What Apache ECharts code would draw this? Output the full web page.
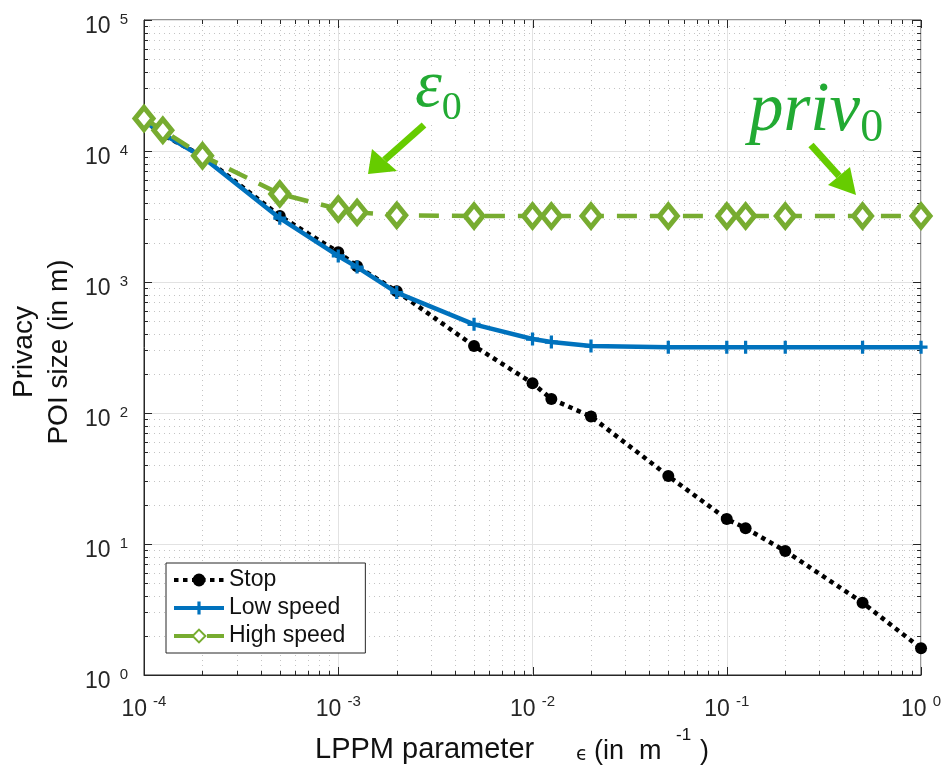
<!DOCTYPE html>
<html><head><meta charset="utf-8">
<script src="https://cdn.jsdelivr.net/npm/echarts@6/dist/echarts.min.js"></script>
<style>html,body{margin:0;padding:0;background:#fff}#c{width:944px;height:766px}</style>
</head><body><div id="c"></div>
<script>
// ---- data ----
const epsValues = [1e-4,1.25e-4,2e-4,5e-4,1e-3,1.25e-3,2e-3,5e-3,1e-2,1.25e-2,2e-2,5e-2,1e-1,1.25e-1,2e-1,5e-1,1];
const stopValues = [17200,13300,9150,3190,1690,1320,850,325,169,128,94,33,15.5,13.2,8.85,3.56,1.6];
const lowSpeedValues = [17000,13500,9000,3070,1580,1300,830,475,367,348,325,318,318,318,318,318,318];
const highSpeedValues = [17700,14400,9200,4700,3610,3400,3230,3190,3190,3190,3190,3190,3190,3190,3190,3190,3190];
const seriesNames = ['Stop','Low speed','High speed'];
const xDecades = [-4,-3,-2,-1,0];
const yDecades = [0,1,2,3,4,5];
const xTitle = 'LPPM parameter';
const xTitleUnit = ['ϵ', '(in  m', '-1', ')'];
const yTitleLines = ['Privacy','POI size (in m)'];
const annotEps = ['ε','0'];
const annotPriv = ['priv','0'];

// ---- helpers ----
function tickList(decades){
  const out=[];
  for(let i=0;i<decades.length;i++){
    out.push({v:Math.pow(10,decades[i]),major:1});
    if(i<decades.length-1) for(let k=2;k<=9;k++) out.push({v:k*Math.pow(10,decades[i]),major:0});
  }
  return out;
}
const xMin=Math.pow(10,xDecades[0]), xMax=Math.pow(10,xDecades[xDecades.length-1]);
const yMin=Math.pow(10,yDecades[0]), yMax=Math.pow(10,yDecades[yDecades.length-1]);
const INK='#262626';
function gridSeries(dim){
  const ticks=tickList(dim==='x'?xDecades:yDecades);
  return {
    type:'custom', silent:true, z:1, clip:false,
    data: ticks.map(t=> dim==='x'?[t.v,yMin,t.major]:[xMin,t.v,t.major]),
    renderItem(params,api){
      const cs=params.coordSys;
      const p=api.coord([api.value(0),api.value(1)]);
      const major=api.value(2)===1;
      const ch=[]; const L=major?8:4;
      if(dim==='x'){
        const x=Math.round(p[0])+0.5;
        if(!major) ch.push({type:'line',shape:{x1:x,y1:cs.y,x2:x,y2:cs.y+cs.height},style:{stroke:'#c4c4c4',lineWidth:1,lineDash:[1,4]}});
        ch.push({type:'line',shape:{x1:x,y1:cs.y+cs.height,x2:x,y2:cs.y+cs.height-L},style:{stroke:INK,lineWidth:1}});
        ch.push({type:'line',shape:{x1:x,y1:cs.y,x2:x,y2:cs.y+L},style:{stroke:INK,lineWidth:1}});
      } else {
        const y=Math.round(p[1])+0.5;
        if(!major) ch.push({type:'line',shape:{x1:cs.x,y1:y,x2:cs.x+cs.width,y2:y},style:{stroke:'#c4c4c4',lineWidth:1,lineDash:[1,4]}});
        ch.push({type:'line',shape:{x1:cs.x,y1:y,x2:cs.x+L,y2:y},style:{stroke:INK,lineWidth:1}});
        ch.push({type:'line',shape:{x1:cs.x+cs.width,y1:y,x2:cs.x+cs.width-L,y2:y},style:{stroke:INK,lineWidth:1}});
      }
      return {type:'group',children:ch};
    }
  };
}
function pairs(ys){return epsValues.map((x,i)=>[x,ys[i]]);}
function richFor(supPad,lh){
  return {b:{fontSize:23,color:INK,fontFamily:'Liberation Sans',verticalAlign:'bottom',lineHeight:lh},
          s:{fontSize:15,color:INK,fontFamily:'Liberation Sans',verticalAlign:'top',lineHeight:15,padding:[0,0,0,supPad]}};
}
function fmt(v){const e=Math.round(Math.log10(v));return '{b|10}{s|'+e+'}';}
const plusPath='path://M4.5,0h3v4.5h4.5v3h-4.5v4.5h-3v-4.5h-4.5v-3h4.5z';
const GREEN='#77AC30', BLUE='#0072BD', AGREEN='#66CC00', TGREEN='#22AA33';
const FONT='Liberation Sans', TXT='#111';

function arrow(tail,tip,base1,base2){
  const bc=[(base1[0]+base2[0])/2,(base1[1]+base2[1])/2];
  return [
    {type:'line',shape:{x1:tail[0],y1:tail[1],x2:bc[0],y2:bc[1]},style:{stroke:AGREEN,lineWidth:7},z:100},
    {type:'polygon',shape:{points:[tip,base1,base2]},style:{fill:AGREEN},z:100}
  ];
}
function txt(s,x,y,size,family){
  return {type:'text',x:x,y:y,z:50,style:{text:s,fontSize:size,fontFamily:family||FONT,fill:TXT,verticalAlign:'middle'}};
}

const chart=echarts.init(document.getElementById('c'));
chart.setOption({
  animation:false,
  backgroundColor:'#fff',
  grid:{left:144,top:20,right:22,bottom:91,show:true,borderColor:INK,borderWidth:1,backgroundColor:'transparent'},
  xAxis:{type:'log',logBase:10,min:xMin,max:xMax,
    axisLine:{lineStyle:{color:INK}},axisTick:{show:false},
    splitLine:{show:true,lineStyle:{color:'#e2e2e2',width:1}},
    axisLabel:{formatter:fmt,rich:richFor(6,27),margin:19}},
  yAxis:{type:'log',logBase:10,min:yMin,max:yMax,
    axisLine:{lineStyle:{color:INK}},axisTick:{show:false},
    splitLine:{show:true,lineStyle:{color:'#e2e2e2',width:1}},
    axisLabel:{formatter:fmt,rich:richFor(9,26),margin:16,padding:[10,0,0,0]}},
  legend:{data:seriesNames,orient:'vertical',left:166,top:563,
    backgroundColor:'#fff',borderColor:INK,borderWidth:1,borderRadius:0,
    padding:[5,20,5,6],itemGap:4,itemWidth:50,itemHeight:16,
    lineStyle:{width:4},
    textStyle:{fontSize:23,color:TXT,fontFamily:FONT,lineHeight:24}},
  series:[
    gridSeries('x'),gridSeries('y'),
    {name:seriesNames[0],type:'line',data:pairs(stopValues),z:3,
     symbol:'circle',symbolSize:12,itemStyle:{color:'#000'},
     lineStyle:{color:'#000',width:4.5,type:[4.5,4.5],cap:'butt'}},
    {name:seriesNames[1],type:'line',data:pairs(lowSpeedValues),z:4,
     symbol:plusPath,symbolSize:13,itemStyle:{color:BLUE},
     lineStyle:{color:BLUE,width:4.5}},
    {name:seriesNames[2],type:'line',data:pairs(highSpeedValues),z:5,
     symbol:'diamond',symbolSize:[18,22],itemStyle:{color:'#fff',borderColor:GREEN,borderWidth:5},
     lineStyle:{color:GREEN,width:4.5,type:[20,13]}}
  ],
  graphic:[
    txt(xTitle,315,750,29),
    txt(xTitleUnit[0],576,755,19,'DejaVu Sans'),
    txt(xTitleUnit[1],594,752,27),
    txt(xTitleUnit[2],676,735,17),
    txt(xTitleUnit[3],700,752,27),
    {type:'text',x:24,y:352,rotation:Math.PI/2,z:50,style:{text:yTitleLines[0],fontSize:28,fontFamily:FONT,fill:TXT,align:'center',verticalAlign:'middle'}},
    {type:'text',x:59,y:352,rotation:Math.PI/2,z:50,style:{text:yTitleLines[1],fontSize:28,fontFamily:FONT,fill:TXT,align:'center',verticalAlign:'middle'}},
    {type:'text',x:413,y:68,z:60,style:{
      text:'{e|'+annotEps[0]+'}{z|'+annotEps[1]+'}',backgroundColor:'#fff',padding:[0,4,0,2],
      rich:{e:{fontSize:68,fontFamily:'Liberation Serif',fontStyle:'italic',fill:TGREEN,verticalAlign:'bottom',lineHeight:54},
            z:{fontSize:40,fontFamily:'Liberation Serif',fill:TGREEN,verticalAlign:'bottom',lineHeight:54,padding:[0,0,-6,0]}}}},
    {type:'text',x:745,y:86,z:60,style:{
      text:'{e|'+annotPriv[0]+'}{z|'+annotPriv[1]+'}',backgroundColor:'#fff',padding:[0,6,0,4],
      rich:{e:{fontSize:69,fontFamily:'Liberation Serif',fontStyle:'italic',fill:TGREEN,verticalAlign:'bottom',lineHeight:60},
            z:{fontSize:46,fontFamily:'Liberation Serif',fill:TGREEN,verticalAlign:'bottom',lineHeight:60,padding:[0,0,-6,0]}}}},
    ...arrow([424,125],[368,174],[372,149],[397,171]),
    ...arrow([811,145],[856,195],[828,185],[850,167])
  ]
});
</script></body></html>
